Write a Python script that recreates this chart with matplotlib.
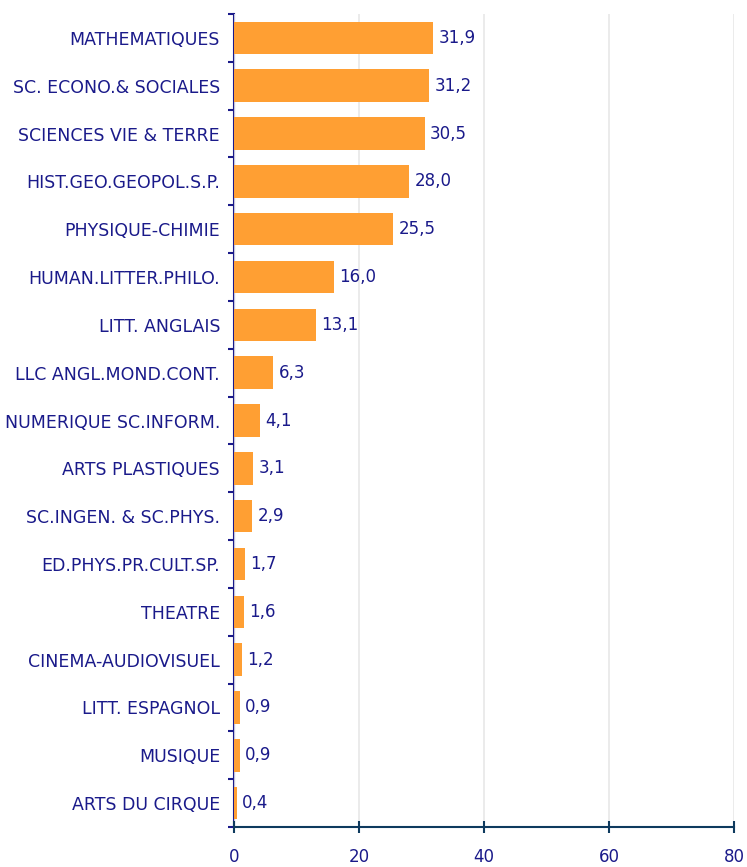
import matplotlib.pyplot as plt

subjects = ['MATHEMATIQUES', 'SC. ECONO.& SOCIALES', 'SCIENCES VIE & TERRE',
            'HIST.GEO.GEOPOL.S.P.', 'PHYSIQUE-CHIMIE', 'HUMAN.LITTER.PHILO.',
            'LITT. ANGLAIS', 'LLC ANGL.MOND.CONT.', 'NUMERIQUE SC.INFORM.',
            'ARTS PLASTIQUES', 'SC.INGEN. & SC.PHYS.', 'ED.PHYS.PR.CULT.SP.',
            'THEATRE', 'CINEMA-AUDIOVISUEL', 'LITT. ESPAGNOL', 'MUSIQUE',
            'ARTS DU CIRQUE']
values = [31.9, 31.2, 30.5, 28.0, 25.5, 16.0, 13.1, 6.3, 4.1, 3.1, 2.9,
          1.7, 1.6, 1.2, 0.9, 0.9, 0.4]
xticks = [0, 20, 40, 60, 80]

navy = '#1a1a8a'
axis_col = '#0e3a5e'
orange = '#ff9f33'

fig = plt.figure(figsize=(7.47, 8.67), dpi=100)
ax = fig.add_axes([234 / 747, 40 / 867, 500 / 747, 813 / 867])

n = len(subjects)
pos = list(range(n))[::-1]
ax.barh(pos, values, height=0.68, color=orange, zorder=3)
for p, v in zip(pos, values):
    ax.annotate(f'{v:.1f}'.replace('.', ','), (v, p), xytext=(4, 0),
                textcoords='offset points', va='center', ha='left',
                fontsize=12, color=navy, zorder=4)

ax.set_xlim(0, 80)
ax.set_ylim(-0.5, n - 0.5)
ax.set_xticks(xticks)
ax.set_xticklabels([str(t) for t in xticks], fontsize=12, color=navy)
ax.tick_params(axis='x', length=8, width=1.5, color=axis_col, pad=11, direction='inout')

# category labels sit between the boundary ticks
ax.set_yticks(pos)
ax.set_yticklabels(subjects, fontsize=12.5, color=navy)
ax.tick_params(axis='y', which='major', length=0, pad=10)
ax.set_yticks([i - 0.5 for i in range(n + 1)], minor=True)
ax.tick_params(axis='y', which='minor', length=4, width=1.5, color=navy, direction='out')

ax.grid(axis='x', color='#e8e8e8', linewidth=1.2, zorder=0)
for s in ['top', 'right']:
    ax.spines[s].set_visible(False)
ax.spines['bottom'].set_color(axis_col)
ax.spines['bottom'].set_linewidth(1.5)
ax.spines['left'].set_color(navy)
ax.spines['left'].set_linewidth(1.5)
ax.spines['left'].set_zorder(1)

fig.savefig('out.png', dpi=100)
